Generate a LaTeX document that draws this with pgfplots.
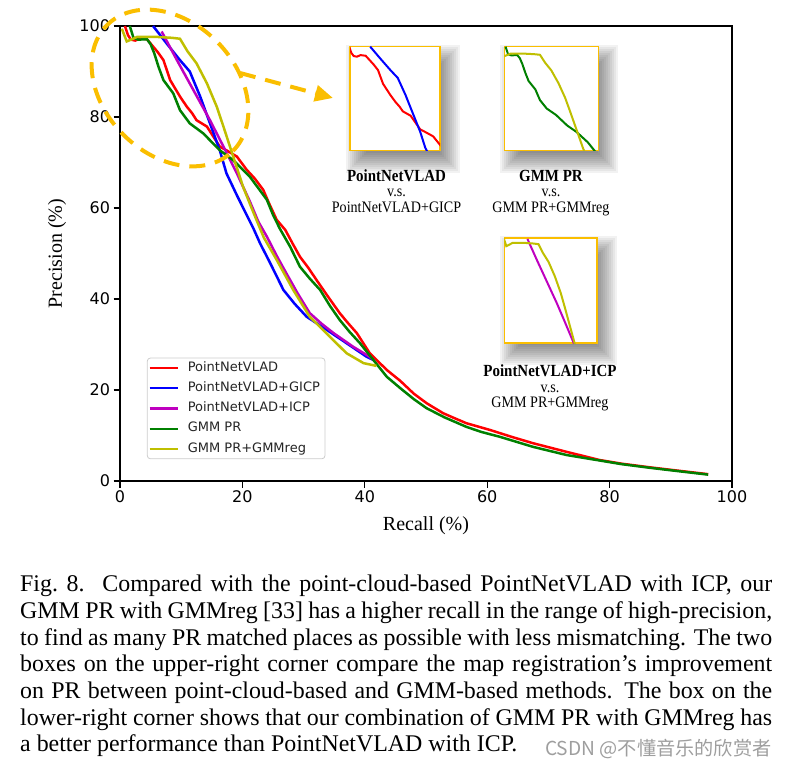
\documentclass[border=0pt]{standalone}
\usepackage{pgfplots}
\pgfplotsset{compat=1.18}
\usepackage{pgfplotstable}
\usepackage{fontspec}
\setmainfont{Liberation Serif}
\newfontfamily\dejavu{DejaVu Sans}
\newfontfamily\cjk{Noto Sans CJK SC}
\newfontfamily\narrowserif[FakeStretch=0.88]{Liberation Serif}
\usetikzlibrary{arrows.meta}

\definecolor{mplgreen}{rgb}{0,0.5,0}
\definecolor{mplmag}{rgb}{0.75,0,0.75}
\definecolor{mplyel}{rgb}{0.75,0.75,0}
\definecolor{gold}{RGB}{250,190,0}

% recall (%)  precision (%)
\pgfplotstableread{
x y
0.8 100
1.3 98
1.8 97.0
2.5 96.8
3.3 97.3
4.4 97.1
5.4 95.5
6.2 94.2
7.1 92.5
7.6 90.5
8.2 88.1
9.0 86.3
9.8 84.5
10.9 82.3
11.8 80.8
12.5 79.3
14.2 77.9
15.2 75.8
16.3 73.5
17.5 72.6
19.1 71.3
20.7 68.4
22.0 66.5
23.4 64.0
24.3 61.2
25.6 57.4
27.0 55.2
28.2 52.2
29.4 49.3
30.8 46.8
32.1 44.2
34.0 40.5
35.9 36.9
37.2 34.8
38.7 32.5
40.8 28.1
42.0 26.5
43.6 24.4
45.8 22.0
48.0 19.2
50.1 17.1
52.8 14.9
54.5 13.9
56.6 12.7
60.5 11.2
64.0 9.7
67.5 8.3
73.0 6.4
78.4 4.6
82.0 3.8
86.6 3.0
91.0 2.3
96.1 1.5
}\pnv

\pgfplotstableread{
x y
5.4 100
7.6 96.2
9.8 92.5
11.4 90.0
13.1 84.5
14.7 78.6
16.3 72.7
17.4 67.6
19.1 62.8
20.5 59.0
21.8 55.5
22.9 52.2
24.5 48.0
26.7 42.0
28.5 39.0
30.5 36.1
33.8 33.2
37.0 30.3
40.3 27.3
41.4 26.6
}\gicp

\pgfplotstableread{
x y
6.8 98.8
9.3 92.5
12.0 85.9
14.7 79.3
16.9 73.5
19.1 67.6
21.2 61.5
22.6 57.0
24.0 53.7
25.6 49.5
27.2 45.6
29.0 41.3
31.0 36.9
33.0 34.5
34.9 32.5
38.1 29.5
40.8 27.3
41.4 26.6
}\icp

\pgfplotstableread{
x y
1.6 100
2.2 97.4
3.0 97.0
4.4 97.1
5.0 96.0
5.6 94.0
6.3 91.0
7.1 88.1
8.7 85.2
9.8 81.5
11.4 78.6
13.6 76.4
16.3 72.7
18.5 70.5
21.2 66.9
22.8 64.0
24.0 61.8
25.0 58.5
26.1 55.5
27.8 51.5
29.4 47.1
31.0 44.5
32.7 42.0
34.3 38.5
35.9 35.4
37.5 32.8
39.2 30.3
41.4 26.6
43.6 22.9
45.8 20.4
48.0 18.0
50.1 16.0
53.0 14.0
56.6 11.9
59.0 10.8
62.1 9.7
67.5 7.5
73.0 5.7
78.4 4.5
82.0 3.7
86.6 2.9
91.0 2.2
96.1 1.4
}\gmm

\pgfplotstableread{
x y
0.3 99.4
1.1 96.6
2.8 97.6
6.0 97.6
8.5 97.4
9.8 97.2
11.0 94.5
12.5 91.8
14.2 87.4
15.8 82.3
16.9 77.9
18.5 71.3
20.1 64.7
21.8 59.0
23.5 53.5
25.6 48.6
28.3 42.0
31.0 36.1
34.3 31.7
37.0 28.1
39.8 25.9
41.9 25.3
}\gmmreg

\newcommand{\blurshadow}[4]{%
  \foreach \r in {12,10,...,-12} {
    \fill[black, opacity=0.05] ({#1+8-\r},{#2-10-\r}) rectangle ({#3+8+\r},{#4-10+\r});
  }
  \fill[white] (#1,#2) rectangle (#3,#4);
}

\pgfplotsset{
  inset/.style={anchor=south west, scale only axis, ticks=none,
    axis line style={draw=gold, line width=1.6pt}},
}

\begin{document}
\begin{tikzpicture}[x=1pt, y=1pt]
\useasboundingbox (0,0) rectangle (791,769);

\begin{axis}[
  at={(120pt,288pt)}, anchor=south west,
  width=612pt, height=455pt, scale only axis,
  xmin=0, xmax=100, ymin=0, ymax=100,
  xtick={0,20,...,100}, ytick={0,20,...,100},
  xtick pos=bottom, ytick pos=left,
  tick align=outside, major tick length=6.5pt,
  tick style={black, line width=1.2pt},
  axis line style={black, line width=1.2pt},
  ticklabel style={font=\dejavu\fontsize{16}{16}\selectfont},
  /pgf/number format/assume math mode=true,
  xlabel={Recall (\%)}, ylabel={Precision (\%)},
  label style={font=\fontsize{20}{20}\selectfont},
  xlabel style={at={(axis description cs:0.5,-0.099)}, anchor=center},
  ylabel style={at={(axis description cs:-0.103,0.5)}, anchor=center},
  legend cell align=left,
  legend image code/.code={\draw[#1, line width=2.4pt] (0pt,0pt) -- (28pt,0pt); \path (33pt,0pt);},
  legend style={at={(0.044,0.048)}, anchor=south west, draw=black!20,
    rounded corners=3pt, line width=0.8pt,
    font=\dejavu\fontsize{13}{13}\selectfont, text=black!85,
    inner xsep=1pt, inner ysep=2pt, row sep=4.8pt,
    nodes={inner xsep=4pt, inner ysep=2pt, text height=9pt, text depth=2.5pt}},
  every axis plot/.append style={line width=2.5pt},
]
\addplot[red] table {\pnv};
\addlegendentry{PointNetVLAD}
\addplot[blue] table {\gicp};
\addlegendentry{PointNetVLAD+GICP}
\addplot[mplmag] table {\icp};
\addlegendentry{PointNetVLAD+ICP}
\addplot[mplgreen] table {\gmm};
\addlegendentry{GMM PR}
\addplot[mplyel] table {\gmmreg};
\addlegendentry{GMM PR+GMMreg}
\end{axis}

% inset boxes
\blurshadow{350}{618.3}{440}{722.3}
\blurshadow{504.3}{618.3}{598.3}{722.3}
\blurshadow{504.3}{425.7}{596.7}{530.7}

\begin{axis}[inset, at={(350pt,618.3pt)}, width=90pt, height=104pt,
  xmin=1, xmax=20.6, ymin=66.7, ymax=100]
\addplot[red, line width=2pt] table {\pnv};
\addplot[blue, line width=2pt] table {\gicp};
\end{axis}
\begin{axis}[inset, at={(504.3pt,618.3pt)}, width=94pt, height=104pt,
  xmin=1.3, xmax=23.7, ymin=64, ymax=100]
\addplot[mplgreen, line width=2pt] table {\gmm};
\addplot[mplyel, line width=2pt] table {\gmmreg};
\end{axis}
\begin{axis}[inset, at={(504.3pt,425.7pt)}, width=92.4pt, height=105pt,
  xmin=0.55, xmax=25.5, ymin=67, ymax=99]
\addplot[mplmag, line width=2pt] table {\icp};
\addplot[mplyel, line width=2pt] table {\gmmreg};
\end{axis}

\node[anchor=base, font=\narrowserif\bfseries\fontsize{17}{17}\selectfont] at (396.5,587.3) {PointNetVLAD};
\node[anchor=base, font=\narrowserif\fontsize{16}{16}\selectfont] at (396.5,572.3) {v.s.};
\node[anchor=base, font=\narrowserif\fontsize{16}{16}\selectfont] at (396.5,556.3) {PointNetVLAD+GICP};
\node[anchor=base, font=\narrowserif\bfseries\fontsize{17}{17}\selectfont] at (551,587.3) {GMM PR};
\node[anchor=base, font=\narrowserif\fontsize{16}{16}\selectfont] at (551,572.3) {v.s.};
\node[anchor=base, font=\narrowserif\fontsize{16}{16}\selectfont] at (551,556.3) {GMM PR+GMMreg};
\node[anchor=base, font=\narrowserif\bfseries\fontsize{17}{17}\selectfont] at (550,392) {PointNetVLAD+ICP};
\node[anchor=base, font=\narrowserif\fontsize{16}{16}\selectfont] at (550,377) {v.s.};
\node[anchor=base, font=\narrowserif\fontsize{16}{16}\selectfont] at (550,362) {GMM PR+GMMreg};

% dashed highlight and arrow
\begin{scope}[shift={(170,681)}, rotate=-45]
  \draw[gold, line width=4pt, dash pattern=on 16pt off 10pt] (0,0) ellipse [x radius=89pt, y radius=66pt];
\end{scope}
\draw[gold, line width=4pt, dash pattern=on 16pt off 10pt, -{Triangle[length=18pt, width=16pt]}] (240,696) -- (333,671);

% caption
\node[anchor=north west, inner sep=0pt, align=left, font=\fontsize{23.9}{26.7}\selectfont] at (20,194) {%
\hbox to 752pt{Fig.~8.\hskip 0.75em Compared with the point-cloud-based PointNetVLAD with ICP, our}\\
\hbox to 752pt{GMM PR with GMMreg [33] has a higher recall in the range of high-precision,}\\
\hbox to 752pt{to find as many PR matched places as possible with less mismatching. The two}\\
\hbox to 752pt{boxes on the upper-right corner compare the map registration’s improvement}\\
\hbox to 752pt{on PR between point-cloud-based and GMM-based methods. The box on the}\\
\hbox to 752pt{lower-right corner shows that our combination of GMM PR with GMMreg has}\\
a better performance than PointNetVLAD with ICP.};
\node[anchor=base west, inner sep=0pt, text=black!38, font=\cjk\fontsize{19.2}{19.2}\selectfont] at (545,14) {CSDN @不懂音乐的欣赏者};
\end{tikzpicture}
\end{document}
